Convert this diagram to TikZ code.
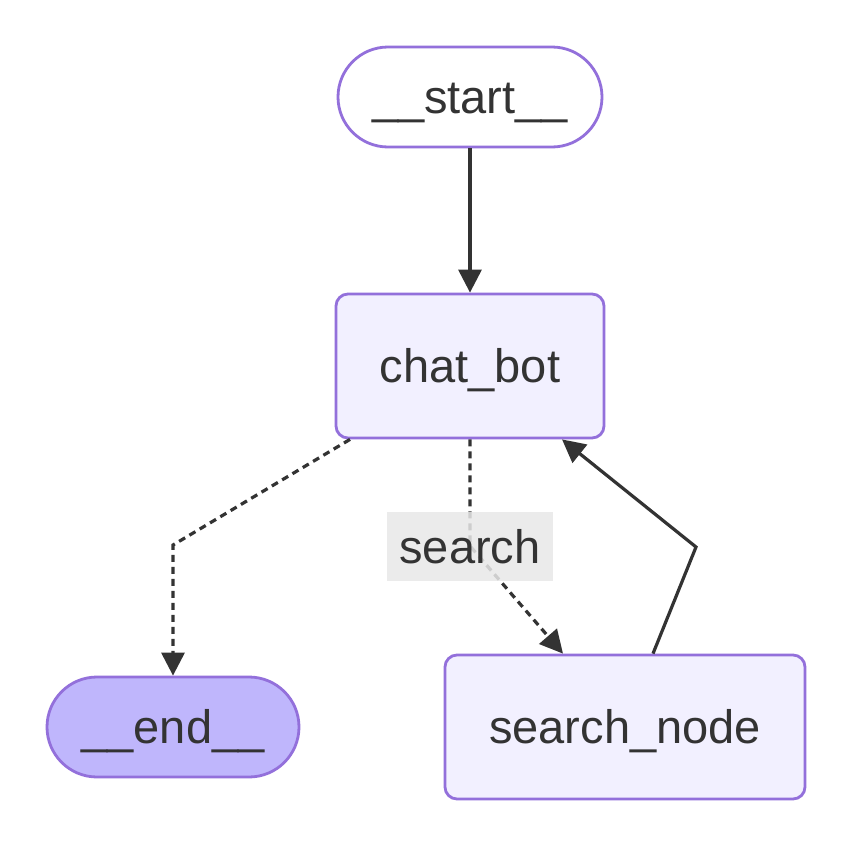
\documentclass[tikz,border=0pt]{standalone}
\usepackage{fontspec}
\setmainfont{Liberation Sans}
\usetikzlibrary{arrows.meta}
\definecolor{nodefill}{HTML}{F2F0FF}
\definecolor{nodestroke}{HTML}{9370DB}
\definecolor{endfill}{HTML}{BFB6FC}
\definecolor{txt}{HTML}{333333}
\definecolor{lblfill}{HTML}{E8E8E8}
\begin{document}
\begin{tikzpicture}[x=1pt,y={(0pt,-1pt)},
  base/.style={draw=nodestroke, line width=2.8pt, text=txt, inner sep=0pt,
    font=\fontsize{47}{56}\selectfont, text height=33pt, text depth=0pt},
  stadium/.style={base, rounded corners=50pt, minimum height=100pt},
  boxnode/.style={base, fill=nodefill, rounded corners=12pt, minimum height=144pt},
  edge/.style={draw=txt, line width=3.2pt, -{Triangle[length=23pt,width=23pt]}},
  dashedge/.style={edge, dash pattern=on 7pt off 5pt},
  lbl/.style={fill=lblfill, fill opacity=0.85, text opacity=1, text=txt,
    minimum width=166pt, minimum height=69pt, inner sep=0pt,
    font=\fontsize{47}{56}\selectfont, text height=33pt, text depth=0pt}
]
\path[use as bounding box, fill=white] (0,0) rectangle (852,846);

\node[stadium, fill=white, minimum width=264pt] (start) at (470,97) {\_\_start\_\_};
\node[boxnode, minimum width=268pt] (chat) at (470,366) {chat\_bot};
\node[stadium, fill=endfill, minimum width=252pt] (end) at (173,727) {\_\_end\_\_};
\node[boxnode, minimum width=360pt] (search) at (625,727) {search\_node};

\coordinate (b1) at (173,545);
\coordinate (b2) at (470,546);
\coordinate (b3) at (696,547);

\draw[edge] (start) -- (chat);
\draw[dashedge] ([xshift=-120pt]chat.south) -- (b1) -- (b1 |- end.north);
\draw[dashedge] (chat.south) -- (b2) -- ([xshift=-62pt]search.north);
\draw[edge] ([xshift=28pt]search.north) -- (b3) -- ([xshift=92pt]chat.south);

\node[lbl] (lab) at (470,546.5) {search};
\end{tikzpicture}
\end{document}
